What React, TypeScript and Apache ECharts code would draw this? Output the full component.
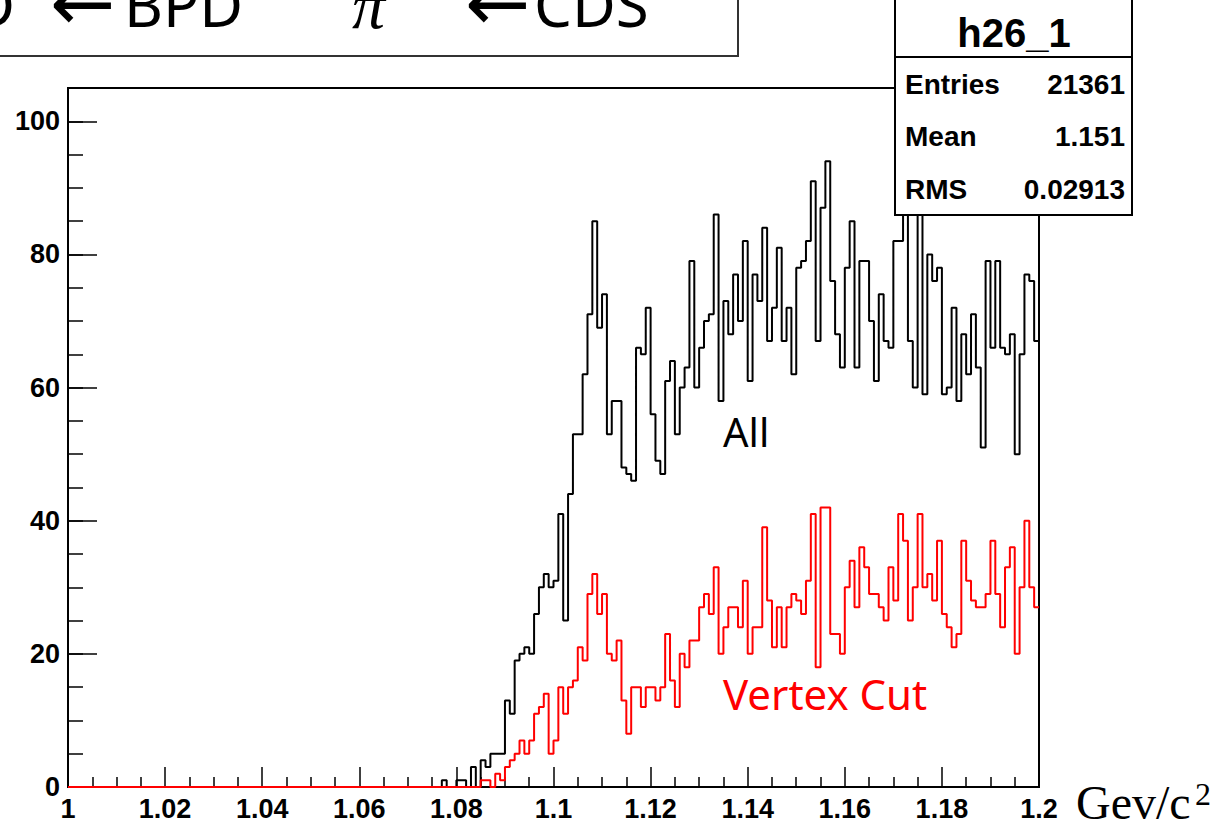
import React, { useEffect, useRef } from 'react';
import * as echarts from 'echarts';

// ---- data ----
const X_MIN = 1.0;
const X_MAX = 1.2;
const BIN_WIDTH = 0.001;
const Y_MAX = 105;

// "All" histogram, counts of bins starting at bin index 77 (x = 1.077)
const BLACK_FIRST_BIN = 77;
const blackCounts = [
  1, 0, 0, 1, 1, 0, 3, 0, 4, 3,
  5, 5, 5, 13, 11, 19, 20, 21, 20, 26,
  30, 32, 30, 31, 41, 25, 44, 53, 53, 62,
  71, 85, 69, 74, 53, 58, 58, 48, 47, 46,
  66, 65, 72, 56, 49, 47, 61, 64, 53, 60,
  63, 79, 60, 66, 70, 71, 86, 58, 73, 68,
  77, 70, 82, 61, 77, 73, 84, 67, 72, 81,
  67, 72, 62, 78, 79, 82, 91, 67, 87, 94,
  76, 68, 63, 78, 85, 63, 79, 79, 70, 61,
  74, 67, 66, 82, 82, 92, 67, 60, 90, 59,
  80, 76, 78, 59, 60, 72, 58, 68, 62, 71,
  63, 51, 79, 66, 79, 66, 65, 68, 50, 65,
  77, 76, 67,
];

// "Vertex Cut" histogram, counts of bins starting at bin index 85 (x = 1.085)
const RED_FIRST_BIN = 85;
const redCounts = [
  1, 1, 0, 2, 1, 3, 4, 5, 7, 5,
  7, 11, 12, 14, 5, 7, 15, 11, 15, 16,
  21, 19, 29, 32, 26, 29, 20, 19, 22, 13,
  8, 15, 15, 12, 15, 15, 13, 15, 23, 16,
  12, 20, 18, 22, 22, 27, 29, 26, 33, 20,
  24, 27, 27, 24, 31, 20, 24, 24, 39, 28,
  21, 27, 21, 27, 29, 28, 26, 31, 41, 18,
  42, 42, 23, 23, 20, 30, 34, 27, 36, 33,
  29, 29, 27, 25, 33, 28, 41, 37, 25, 30,
  41, 30, 32, 28, 37, 26, 24, 21, 23, 37,
  31, 28, 27, 27, 29, 37, 29, 24, 33, 36,
  20, 30, 40, 30, 27,
];

const histName = 'h26_1';
const statLabels = ['Entries', 'Mean', 'RMS'];
const statValues = ['21361', '1.151', '0.02913'];
const seriesNames = ['All', 'Vertex Cut'];
const unitLabel = 'Gev/c';
const unitSup = '2';

function toSteps(firstBin: number, counts: number[]): number[][] {
  const pts: number[][] = [[X_MIN, 0]];
  counts.forEach((c, i) => {
    pts.push([+(X_MIN + (firstBin + i) * BIN_WIDTH).toFixed(4), c]);
  });
  pts.push([X_MAX, counts[counts.length - 1]]);
  return pts;
}

// ---- layout ----
const GRID_LEFT = 68;
const GRID_TOP = 88;
const GRID_RIGHT_PX = 1039;
const GRID_BOTTOM_PX = 787;
const TOP_Z = 100;

export default function App() {
  const ref = useRef<HTMLDivElement>(null);

  useEffect(() => {
    if (!ref.current) return;
    const chart = echarts.init(ref.current, undefined, { renderer: 'svg' });

    const axisFont = {
      fontFamily: '"Liberation Sans", Arial, sans-serif',
      fontWeight: 'bold' as const,
      fontSize: 27,
      color: '#000',
    };

    const statFont = 'bold 28px "Liberation Sans", Arial, sans-serif';
    const titleFont = '60px "Noto Sans", sans-serif';
    const arrowFont = '78px "DejaVu Sans", sans-serif';

    const txt = (text: string, x: number, y: number, font: string, fill = '#000', align = 'left') => ({
      type: 'text',
      z: TOP_Z + 1,
      x,
      y,
      style: { text, font, fill, textAlign: align, textVerticalAlign: 'middle' },
    });

    chart.setOption({
      animation: false,
      backgroundColor: '#fff',
      grid: {
        left: GRID_LEFT,
        top: GRID_TOP,
        width: GRID_RIGHT_PX - GRID_LEFT,
        height: GRID_BOTTOM_PX - GRID_TOP,
        show: true,
        borderColor: '#000',
        borderWidth: 2,
        backgroundColor: 'transparent',
      },
      xAxis: {
        type: 'value',
        min: X_MIN,
        max: X_MAX,
        interval: 0.02,
        axisLine: { show: true, onZero: false, lineStyle: { color: '#000', width: 2 } },
        axisTick: { show: true, inside: true, length: 20, lineStyle: { color: '#000', width: 1.5 } },
        minorTick: { show: true, splitNumber: 4, length: 10, lineStyle: { color: '#000', width: 1.5 } },
        splitLine: { show: false },
        minorSplitLine: { show: false },
        axisLabel: {
          ...axisFont,
          margin: 8,
          formatter: (v: number) => String(Math.round(v * 100) / 100),
        },
      },
      yAxis: [
        {
          type: 'value',
          min: 0,
          max: Y_MAX,
          interval: 20,
          position: 'left',
          axisLine: { show: true, lineStyle: { color: '#000', width: 2 } },
          axisTick: { show: true, inside: true, length: 29, lineStyle: { color: '#000', width: 1.5 } },
          splitLine: { show: false },
          axisLabel: {
            ...axisFont,
            margin: 8,
            formatter: (v: number) => (v % 20 === 0 && v <= 100 ? String(v) : ''),
          },
        },
        {
          type: 'value',
          min: 0,
          max: Y_MAX,
          interval: 5,
          position: 'left',
          axisLine: { show: false },
          axisTick: { show: true, inside: true, length: 15, lineStyle: { color: '#000', width: 1.5 } },
          splitLine: { show: false },
          axisLabel: { show: false },
        },
      ],
      series: [
        {
          name: seriesNames[0],
          type: 'line',
          step: 'end',
          xAxisIndex: 0,
          yAxisIndex: 0,
          symbol: 'none',
          data: toSteps(BLACK_FIRST_BIN, blackCounts),
          lineStyle: { color: '#000', width: 2 },
          z: 2,
        },
        {
          name: seriesNames[1],
          type: 'line',
          step: 'end',
          xAxisIndex: 0,
          yAxisIndex: 0,
          symbol: 'none',
          data: toSteps(RED_FIRST_BIN, redCounts),
          lineStyle: { color: '#ff0000', width: 2 },
          z: 3,
        },
      ],
      graphic: [
        // title box (partly outside the page)
        {
          type: 'rect',
          z: TOP_Z,
          shape: { x: -10, y: -10, width: 748, height: 66 },
          style: { fill: '#fff', stroke: '#333', lineWidth: 2 },
        },
        txt('D', 15, 4, titleFont, '#000', 'right'),
        txt('←', 50, 3, arrowFont),
        txt('BPD', 124, 4, titleFont),
        txt('π', 352, 5, 'italic 66px "Liberation Serif", serif'),
        txt('←', 465, 3, arrowFont),
        txt('CDS', 534, 4, titleFont),
        // statistics box
        {
          type: 'rect',
          z: TOP_Z,
          shape: { x: 895, y: -3, width: 237, height: 218 },
          style: { fill: '#fff', stroke: '#000', lineWidth: 2 },
        },
        {
          type: 'line',
          z: TOP_Z + 1,
          shape: { x1: 895, y1: 57, x2: 1132, y2: 57 },
          style: { stroke: '#000', lineWidth: 2 },
        },
        txt(histName, 1014, 33, 'bold 40px "Liberation Sans", Arial, sans-serif', '#000', 'center'),
        ...statLabels.map((lab, i) => txt(lab, 905, [84, 136, 189][i], statFont)),
        ...statValues.map((val, i) => txt(val, 1125, [84, 136, 189][i], statFont, '#000', 'right')),
        // in-plot labels
        txt(seriesNames[0], 723, 431, '40px "Noto Sans", sans-serif'),
        txt(seriesNames[1], 723, 693, '42px "Noto Sans", sans-serif', '#ff0000'),
        // unit label
        txt(unitLabel, 1076, 802, '48px "Liberation Serif", serif'),
        txt(unitSup, 1195, 794, '32px "Liberation Serif", serif'),
      ],
    });

    return () => chart.dispose();
  }, []);

  return (
    <div
      ref={ref}
      style={{ position: 'absolute', left: 0, top: 0, width: 1219, height: 826, background: '#fff' }}
    />
  );
}
